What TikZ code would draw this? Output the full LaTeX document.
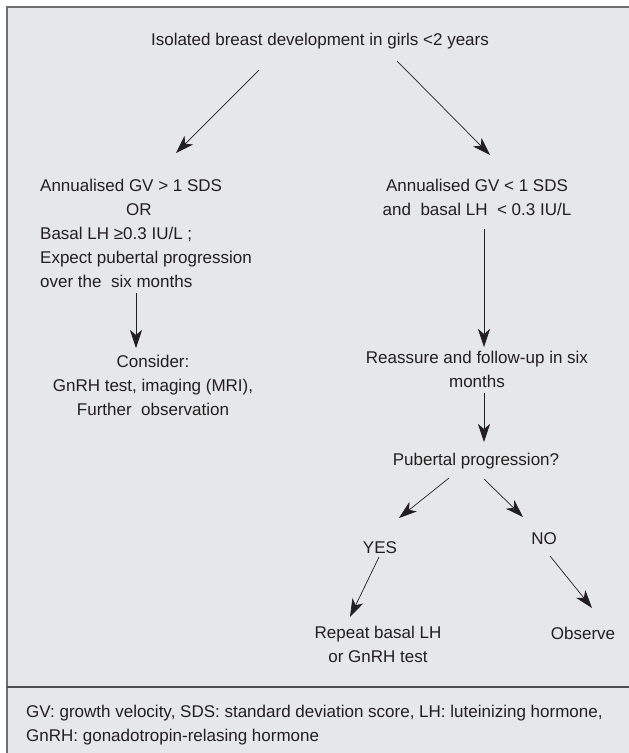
\documentclass[tikz,border=0pt]{standalone}
\usepackage{fontspec}
\setmainfont{Liberation Sans}
\usepackage{xcolor}
\usepackage{tikz}
\usetikzlibrary{arrows.meta,positioning}
\definecolor{pbPaper}{HTML}{E6E7E8}
\definecolor{pbFrame}{HTML}{6D6E70}
\definecolor{pbRule}{HTML}{4D4D4F}
\definecolor{pbInk}{HTML}{231F20}

\begin{document}
\begin{tikzpicture}[x=1pt,y=-1pt,
    txt/.style={inner sep=0pt,text=pbInk,font=\fontsize{17}{24}\selectfont},
    arr/.style={pbInk,line width=0.7pt,-{Stealth[length=18pt,width=12pt,inset=5pt]}}]
  \useasboundingbox (0,0) rectangle (629,753);
  \clip (0,0) rectangle (629,753);
  \fill[white] (0,0) rectangle (629,753);
  \draw[pbFrame,line width=1.6pt,fill=pbPaper] (7,7) rectangle (650,780);
  \draw[pbRule,line width=1.2pt] (7,687) -- (650,687);

  \node[txt,anchor=base] (top) at (320,45) {Isolated breast development in girls <2 years};
  \node[txt,anchor=base west,align=left] (gvhigh) at (40,287)
    {Annualised GV > 1 SDS\\\hspace*{86pt}OR\\Basal LH ≥0.3 IU/L ;\\Expect pubertal progression\\over the\ \ six months};
  \node[txt,anchor=base,align=center] (consider) at (153,415)
    {Consider:\\GnRH test, imaging (MRI),\\Further\ \ observation};
  \node[txt,anchor=base,align=center] (gvlow) at (477,215)
    {Annualised GV < 1 SDS\\and\ \ basal LH\ \ < 0.3 IU/L};
  \node[txt,anchor=base,align=center] (reassure) at (477,387)
    {Reassure and follow-up in six\\months};
  \node[txt,anchor=base] (prog) at (476,465) {Pubertal progression?};
  \node[txt,anchor=base] (yes) at (380,553) {YES};
  \node[txt,anchor=base] (no) at (544,544) {NO};
  \node[txt,anchor=base,align=center] (repeat) at (378,662)
    {Repeat basal LH\\or GnRH test};
  \node[txt,anchor=base] (observe) at (583,639) {Observe};
  \node[txt,anchor=base west,align=left] (abbrev) at (26,741)
    {GV: growth velocity, SDS: standard deviation score, LH: luteinizing hormone,\\GnRH: gonadotropin-relasing hormone};

  % connectors
  \draw[arr] ([shift={(-61,25)}]top.base) -- ([shift={(136,-134)}]gvhigh.base west);
  \draw[arr] ([shift={(77,16)}]top.base) -- ([shift={(13,-60)}]gvlow.base);
  \draw[arr] ([shift={(96,6)}]gvhigh.base west) -- ([shift={(-17,-67)}]consider.base);
  \draw[arr] ([shift={(7,14)}]gvlow.base) -- ([shift={(7,-40)}]reassure.base);
  \draw[arr] ([shift={(7,6)}]reassure.base) -- ([shift={(8,-23)}]prog.base);
  \draw[arr] ([shift={(-27,13)}]prog.base) -- ([shift={(19,-35)}]yes.base);
  \draw[arr] ([shift={(8,14)}]prog.base) -- ([shift={(-21,-27)}]no.base);
  \draw[arr] ([shift={(-1,4)}]yes.base) -- ([shift={(-28,-45)}]repeat.base);
  \draw[arr] ([shift={(6,12)}]no.base) -- ([shift={(9,-31)}]observe.base);
\end{tikzpicture}
\end{document}
